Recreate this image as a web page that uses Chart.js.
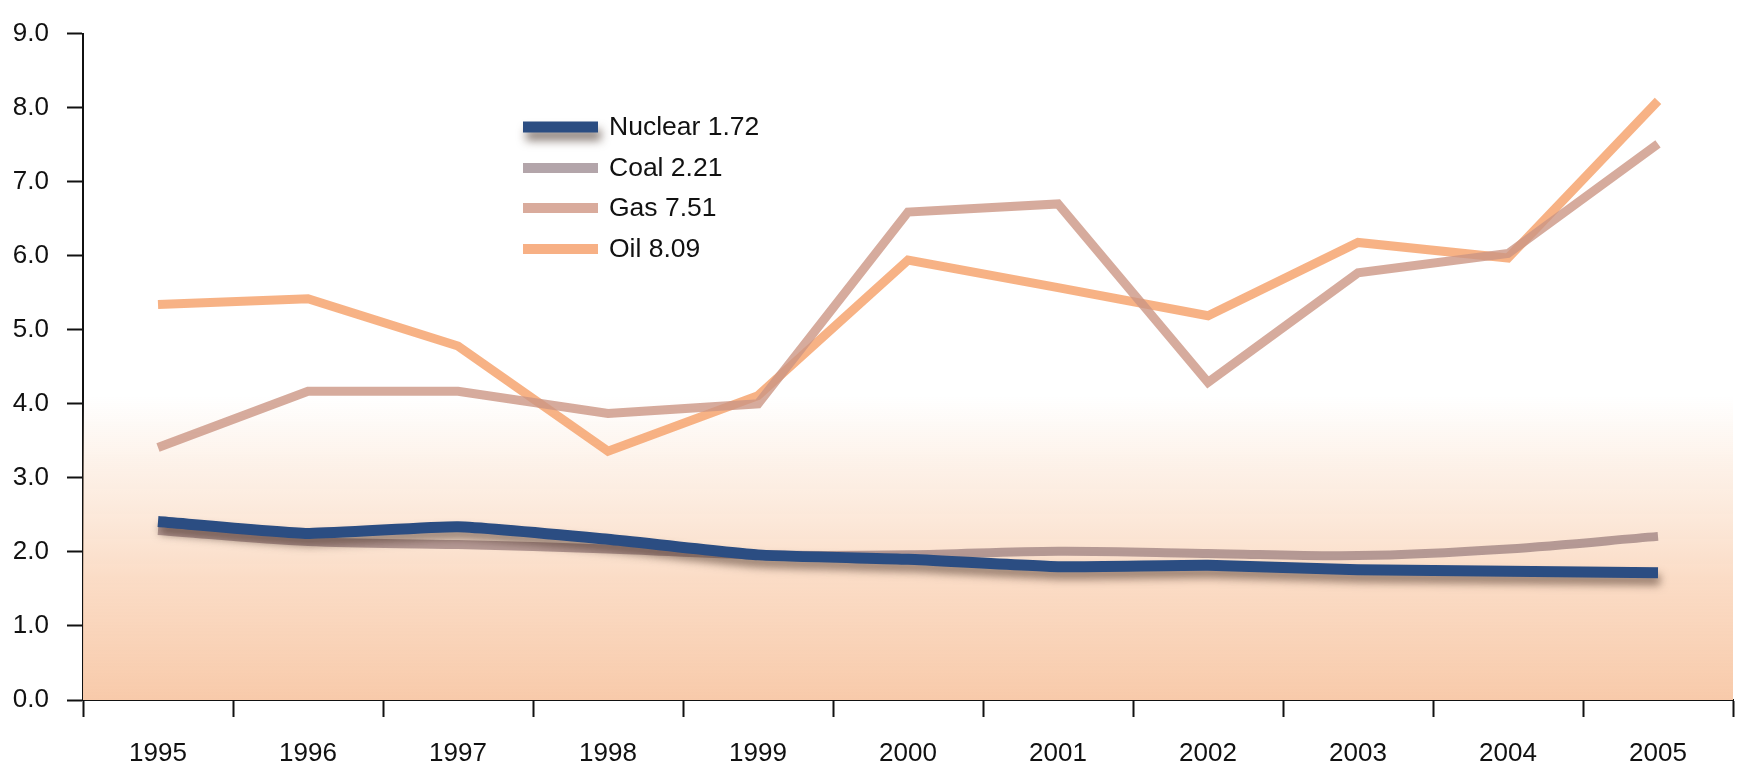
<!DOCTYPE html>
<html>
<head>
<meta charset="utf-8">
<title>Fuel cost trends 1995–2005</title>
<script src="https://cdn.jsdelivr.net/npm/chart.js@4.4.1/dist/chart.umd.min.js"></script>
<style>
  html, body { margin: 0; padding: 0; background: #fff; }
  #wrap { width: 1740px; height: 765px; position: relative; }
</style>
</head>
<body>
<div id="wrap"><canvas id="c" width="1740" height="765"></canvas></div>
<script>
// Years along the horizontal axis
const years = ['1995', '1996', '1997', '1998', '1999', '2000', '2001', '2002', '2003', '2004', '2005'];

// Series values, one per year
const nuclear = [2.41, 2.25, 2.34, 2.17, 1.96, 1.90, 1.80, 1.82, 1.76, 1.74, 1.72];
const coal    = [2.29, 2.14, 2.10, 2.04, 1.96, 1.96, 2.01, 1.98, 1.95, 2.04, 2.21];
const gas     = [3.41, 4.17, 4.17, 3.87, 4.00, 6.59, 6.70, 4.29, 5.77, 6.03, 7.51];
const oil     = [5.34, 5.42, 4.78, 3.36, 4.11, 5.94, 5.57, 5.19, 6.18, 5.97, 8.09];

// Legend captions
const seriesNames = ['Nuclear 1.72', 'Coal 2.21', 'Gas 7.51', 'Oil 8.09'];

// Value-axis range
const yMin = 0, yMax = 9, yStep = 1;

const FONT = '"Liberation Sans", Arial, Helvetica, sans-serif';

// Soft peach wash behind the lower part of the plot
const backdrop = {
  id: 'backdrop',
  beforeDatasetsDraw(chart) {
    const { ctx, chartArea, scales } = chart;
    const top = scales.y.getPixelForValue(4.1);
    const bottom = chartArea.bottom;
    const g = ctx.createLinearGradient(0, top, 0, bottom);
    g.addColorStop(0, 'rgba(250,222,200,0)');
    g.addColorStop(0.25, 'rgba(250,222,200,0.45)');
    g.addColorStop(0.6, 'rgba(250,214,188,0.85)');
    g.addColorStop(1, 'rgba(248,202,170,1)');
    ctx.save();
    ctx.fillStyle = g;
    ctx.fillRect(chartArea.left, top, chartArea.right - chartArea.left, bottom - top);
    ctx.restore();
  }
};

// Drop shadow under the nuclear line
const lineShadow = {
  id: 'lineShadow',
  beforeDatasetDraw(chart, args) {
    if (args.index !== 0) return;
    const ctx = chart.ctx;
    ctx.save();
    ctx.shadowColor = 'rgba(70,45,35,0.55)';
    ctx.shadowBlur = 9;
    ctx.shadowOffsetX = 2;
    ctx.shadowOffsetY = 7;
  },
  afterDatasetDraw(chart, args) {
    if (args.index !== 0) return;
    chart.ctx.restore();
  }
};

// Legend block placed inside the plot area
const insetLegend = {
  id: 'insetLegend',
  afterDatasetsDraw(chart) {
    const ctx = chart.ctx;
    const x0 = 523, x1 = 598, tx = 609;
    const rows = [127, 168, 208, 249];
    chart.data.datasets.forEach((ds, i) => {
      const y = rows[i];
      ctx.save();
      if (i === 0) {
        ctx.shadowColor = 'rgba(60,40,30,0.6)';
        ctx.shadowBlur = 10;
        ctx.shadowOffsetX = 3;
        ctx.shadowOffsetY = 8;
      }
      ctx.strokeStyle = ds.legendColor;
      ctx.lineWidth = i === 0 ? 11 : 10;
      ctx.lineCap = 'butt';
      ctx.beginPath();
      ctx.moveTo(x0, y);
      ctx.lineTo(x1, y);
      ctx.stroke();
      ctx.restore();

      ctx.save();
      ctx.fillStyle = '#111';
      ctx.font = '26.5px ' + FONT;
      ctx.textBaseline = 'middle';
      ctx.textAlign = 'left';
      ctx.fillText(ds.label, tx, y + 1);
      ctx.restore();
    });
  }
};

const common = {
  fill: false,
  pointRadius: 0,
  pointHoverRadius: 0,
  borderCapStyle: 'butt',
  borderJoinStyle: 'miter'
};

new Chart(document.getElementById('c'), {
  type: 'line',
  data: {
    labels: years,
    datasets: [
      Object.assign({}, common, {
        label: seriesNames[0], data: nuclear,
        borderColor: '#2b4d82', legendColor: '#2b4d82',
        borderWidth: 11, tension: 0.15, order: 0
      }),
      Object.assign({}, common, {
        label: seriesNames[1], data: coal,
        borderColor: 'rgba(168,140,138,0.85)', legendColor: '#b3a5aa',
        borderWidth: 9, tension: 0.35, order: 1
      }),
      Object.assign({}, common, {
        label: seriesNames[2], data: gas,
        borderColor: 'rgba(204,150,132,0.8)', legendColor: '#d9ab9c',
        borderWidth: 9, tension: 0, order: 2
      }),
      Object.assign({}, common, {
        label: seriesNames[3], data: oil,
        borderColor: 'rgba(246,164,112,0.85)', legendColor: '#f7b085',
        borderWidth: 9, tension: 0, order: 3
      })
    ]
  },
  options: {
    responsive: false,
    animation: false,
    devicePixelRatio: 1,
    layout: { padding: { top: 29, right: 7, left: 0, bottom: 0 } },
    plugins: {
      legend: { display: false },
      tooltip: { enabled: false }
    },
    scales: {
      x: {
        type: 'category',
        offset: true,
        border: { display: true, color: '#111', width: 2 },
        grid: {
          offset: true,
          drawOnChartArea: false,
          drawTicks: true,
          tickLength: 17,
          tickWidth: 2,
          tickColor: '#111'
        },
        ticks: {
          color: '#111',
          font: { family: FONT, size: 26 },
          padding: 21,
          maxRotation: 0,
          autoSkip: false
        },
        afterFit(scale) { scale.height = 65; }
      },
      y: {
        min: yMin,
        max: yMax,
        border: { display: true, color: '#111', width: 2 },
        grid: {
          drawOnChartArea: false,
          drawTicks: true,
          tickLength: 16,
          tickWidth: 2,
          tickColor: '#111'
        },
        ticks: {
          stepSize: yStep,
          color: '#111',
          font: { family: FONT, size: 26 },
          padding: 18,
          callback: v => Number(v).toFixed(1)
        },
        afterFit(scale) { scale.width = 83; }
      }
    }
  },
  plugins: [backdrop, lineShadow, insetLegend]
});
</script>
</body>
</html>
